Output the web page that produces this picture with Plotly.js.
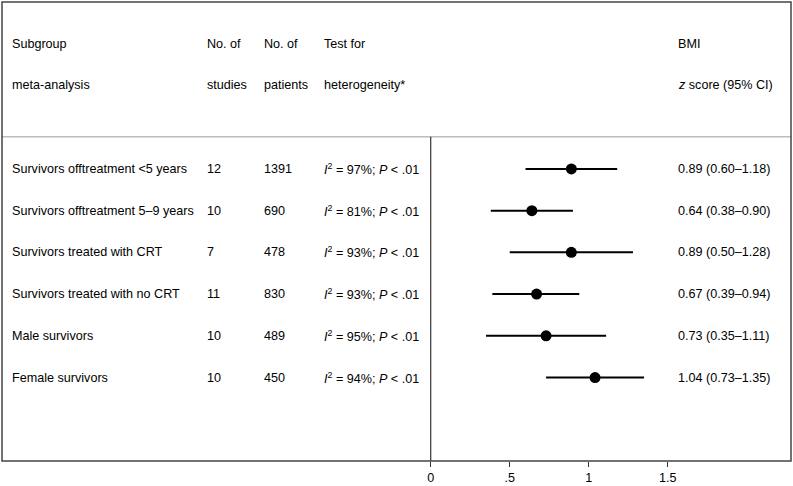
<!DOCTYPE html>
<html>
<head>
<meta charset="utf-8">
<script src="https://cdn.plot.ly/plotly-3.0.1.min.js"></script>
<style>html,body{margin:0;padding:0;background:#fff;}#chart{width:793px;height:486px;}</style>
</head>
<body>
<div id="chart"></div>
<script>
const subgroups = [
  "Survivors offtreatment &lt;5 years",
  "Survivors offtreatment 5–9 years",
  "Survivors treated with CRT",
  "Survivors treated with no CRT",
  "Male survivors",
  "Female survivors"
];
const studies = [12, 10, 7, 11, 10, 10];
const patients = [1391, 690, 478, 830, 489, 450];
const i2 = [97, 81, 93, 93, 95, 94];
const pText = ".01";
const zScore = [0.89, 0.64, 0.89, 0.67, 0.73, 1.04];
const ciLow = [0.60, 0.38, 0.50, 0.39, 0.35, 0.73];
const ciHigh = [1.18, 0.90, 1.28, 0.94, 1.11, 1.35];
const tickVals = [0, 0.5, 1, 1.5];
const tickText = ["0", ".5", "1", "1.5"];
const header1 = ["Subgroup", "No. of", "No. of", "Test for", "BMI"];
const header2 = ["meta-analysis", "studies", "patients", "heterogeneity*", "<i>z</i> score (95% CI)"];

const rows = subgroups.map((_, i) => i + 1);
const colX = [0.0101, 0.257, 0.3295, 0.4056, 0.854];
const font = {family: "Liberation Sans, Arial, sans-serif", size: 12.6, color: "#000"};

const annotations = [];
function addText(x, y, text) {
  annotations.push({x: x, y: y, xref: "paper", yref: "y", text: text, showarrow: false,
    xanchor: "left", yanchor: "middle", font: font});
}
header1.forEach((t, c) => addText(colX[c], -2, t));
header2.forEach((t, c) => addText(colX[c], -1, t));
rows.forEach((r, i) => {
  addText(colX[0], r, subgroups[i]);
  addText(colX[1], r, String(studies[i]));
  addText(colX[2], r, String(patients[i]));
  addText(colX[3], r, "<i>I</i><sup>2</sup> = " + i2[i] + "%; <i>P</i> &lt; " + pText);
  addText(colX[4], r, zScore[i].toFixed(2) + " (" + ciLow[i].toFixed(2) + "–" + ciHigh[i].toFixed(2) + ")");
});

const trace = {
  x: zScore,
  y: rows,
  type: "scatter",
  mode: "markers",
  marker: {color: "#000", size: 11},
  error_x: {
    type: "data",
    symmetric: false,
    array: zScore.map((z, i) => ciHigh[i] - z),
    arrayminus: zScore.map((z, i) => z - ciLow[i]),
    width: 0,
    thickness: 2,
    color: "#000"
  },
  hoverinfo: "skip"
};

const layout = {
  width: 793,
  height: 486,
  margin: {l: 2, r: 2, t: 2, b: 25},
  paper_bgcolor: "#fff",
  plot_bgcolor: "#fff",
  showlegend: false,
  font: font,
  xaxis: {
    range: [-2.713, 2.28],
    tickvals: tickVals,
    ticktext: tickText,
    ticks: "outside",
    ticklen: 5,
    tickwidth: 1,
    tickcolor: "#333",
    ticklabelstandoff: 1.5,
    showgrid: false,
    zeroline: false,
    showline: false,
    tickfont: font,
    fixedrange: true
  },
  yaxis: {
    range: [8, -3],
    showticklabels: false,
    ticks: "",
    showgrid: false,
    zeroline: false,
    showline: false,
    fixedrange: true
  },
  shapes: [
    {type: "line", xref: "paper", yref: "y", x0: 0, x1: 1, y0: 0.23, y1: 0.23,
     line: {color: "#bdbdbd", width: 1.5}},
    {type: "line", xref: "x", yref: "y", x0: 0, x1: 0, y0: 0.23, y1: 8,
     line: {color: "#333", width: 1.2}},
    {type: "rect", xref: "paper", yref: "paper", x0: 0, x1: 1, y0: 0, y1: 1,
     line: {color: "#444", width: 1.5}}
  ],
  annotations: annotations
};

Plotly.newPlot("chart", [trace], layout, {displayModeBar: false, staticPlot: true});
</script>
</body>
</html>
